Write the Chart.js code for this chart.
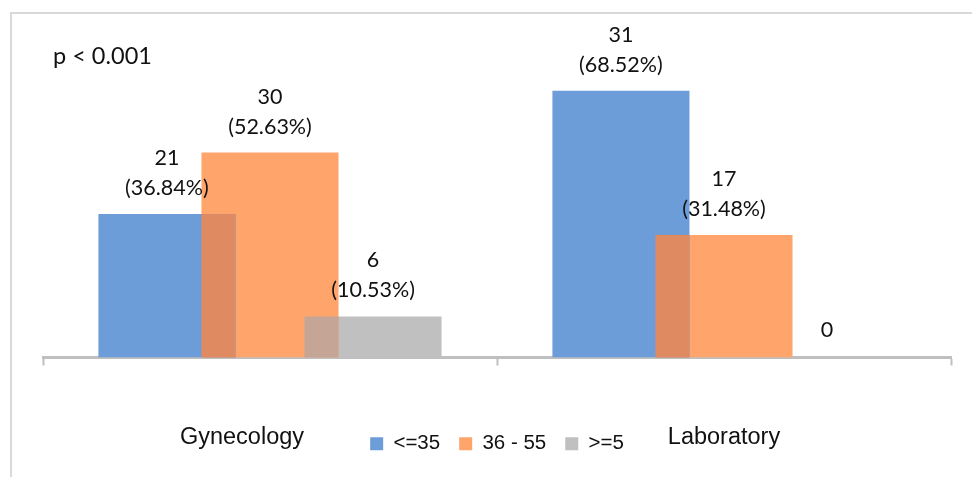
<!DOCTYPE html>
<html>
<head>
<meta charset="utf-8">
<script src="https://cdn.jsdelivr.net/npm/chart.js@4/dist/chart.umd.min.js"></script>
<style>
  html, body { margin: 0; padding: 0; background: #ffffff; }
  #wrap { width: 972px; height: 477px; position: relative; }
</style>
</head>
<body>
<div id="wrap"><canvas id="c" width="972" height="477"></canvas></div>
<script>
// Departments and age groups
const categories = ['Gynecology', 'Laboratory'];
const seriesNames = ['<=35', '36 - 55', '>=5'];

// Counts per age group
const countsUpTo35 = [21, 31];
const counts36to55 = [30, 17];
const countsFrom5 = [6, 0];

// Share of each department (%), used as bar heights
const pctUpTo35 = [36.84, 68.52];
const pct36to55 = [52.63, 31.48];
const pctFrom5 = [10.53, 0];

const pValueText = 'p < 0.001';

const seriesColors = ['#6D9DD8', '#FFA56C', '#C0C0C0'];
// colour where neighbouring bars overlap (pair 0/1, pair 1/2)
const overlapColors = ['#E08A62', '#C5A595'];

const LABEL_FONT = '21.5px Lato';
const TEXT_COLOR = '#111111';

const framePlugin = {
  id: 'frame',
  beforeDraw(chart) {
    const ctx = chart.ctx;
    ctx.save();
    ctx.fillStyle = '#ffffff';
    ctx.fillRect(0, 0, chart.width, chart.height);
    ctx.strokeStyle = '#D9D9D9';
    ctx.lineWidth = 2;
    ctx.beginPath();
    ctx.moveTo(11, chart.height);
    ctx.lineTo(11, 13);
    ctx.lineTo(chart.width, 13);
    ctx.stroke();
    ctx.restore();
  }
};

const overlapPlugin = {
  id: 'overlap',
  afterDatasetsDraw(chart) {
    const ctx = chart.ctx;
    ctx.save();
    for (let d = 0; d < chart.data.datasets.length - 1; d++) {
      const a = chart.getDatasetMeta(d).data;
      const b = chart.getDatasetMeta(d + 1).data;
      a.forEach((ea, i) => {
        const eb = b[i];
        if (!eb) return;
        const pa = ea.getProps(['x', 'y', 'base', 'width'], true);
        const pb = eb.getProps(['x', 'y', 'base', 'width'], true);
        const left = Math.max(pa.x - pa.width / 2, pb.x - pb.width / 2);
        const right = Math.min(pa.x + pa.width / 2, pb.x + pb.width / 2);
        const top = Math.max(pa.y, pb.y);
        const base = Math.min(pa.base, pb.base);
        if (right > left && base > top) {
          ctx.fillStyle = overlapColors[d];
          ctx.fillRect(left, top, right - left, base - top);
        }
      });
    }
    ctx.restore();
  }
};

const valueLabelPlugin = {
  id: 'valueLabels',
  afterDatasetsDraw(chart) {
    const ctx = chart.ctx;
    const counts = [countsUpTo35, counts36to55, countsFrom5];
    ctx.save();
    ctx.font = LABEL_FONT;
    ctx.fillStyle = TEXT_COLOR;
    ctx.textAlign = 'center';
    ctx.textBaseline = 'middle';
    chart.data.datasets.forEach((ds, d) => {
      chart.getDatasetMeta(d).data.forEach((el, i) => {
        const p = el.getProps(['x', 'y'], true);
        const n = counts[d][i];
        if (n === 0) {
          ctx.fillText(String(n), p.x, p.y - 27);
        } else {
          ctx.fillText(String(n), p.x, p.y - 56);
          ctx.fillText('(' + ds.data[i].toFixed(2) + '%)', p.x, p.y - 26);
        }
      });
    });
    ctx.restore();
  }
};

const textPlugin = {
  id: 'texts',
  afterDraw(chart) {
    const ctx = chart.ctx;
    const xs = chart.scales.x;
    const nudge = [-28, 0];
    ctx.save();
    ctx.fillStyle = TEXT_COLOR;
    ctx.textBaseline = 'middle';
    ctx.textAlign = 'left';
    ctx.font = '23.5px Lato';
    ctx.fillText(pValueText, 53, 56);
    ctx.textAlign = 'center';
    ctx.font = '23.5px "Liberation Sans"';
    categories.forEach((c, i) => {
      ctx.fillText(c, xs.getPixelForValue(i) + nudge[i], 438);
    });
    ctx.restore();
  }
};

const seriesData = [pctUpTo35, pct36to55, pctFrom5];

new Chart(document.getElementById('c'), {
  type: 'bar',
  data: {
    labels: categories,
    datasets: seriesNames.map((name, k) => ({
      label: name,
      data: seriesData[k],
      backgroundColor: seriesColors[k],
      borderColor: seriesColors[k],
      borderWidth: 0,
      categoryPercentage: 0.681,
      barPercentage: 1.33
    }))
  },
  options: {
    responsive: false,
    animation: false,
    devicePixelRatio: 1,
    layout: { padding: { left: 43, right: 21, top: 46, bottom: 13 } },
    scales: {
      x: {
        offset: true,
        grid: {
          offset: true,
          drawOnChartArea: false,
          drawTicks: true,
          tickLength: 8,
          tickWidth: 2,
          tickColor: '#BFBFBF'
        },
        border: { display: true, color: '#BFBFBF', width: 3 },
        ticks: { display: false },
        afterFit(scale) { scale.height = 57; }
      },
      y: {
        display: false,
        min: 0,
        max: 80
      }
    },
    plugins: {
      legend: {
        position: 'bottom',
        labels: {
          boxWidth: 13,
          boxHeight: 13,
          padding: 19,
          color: TEXT_COLOR,
          font: { family: '"Liberation Sans"', size: 20.5 }
        }
      },
      tooltip: { enabled: false }
    }
  },
  plugins: [framePlugin, overlapPlugin, valueLabelPlugin, textPlugin]
});
</script>
</body>
</html>
